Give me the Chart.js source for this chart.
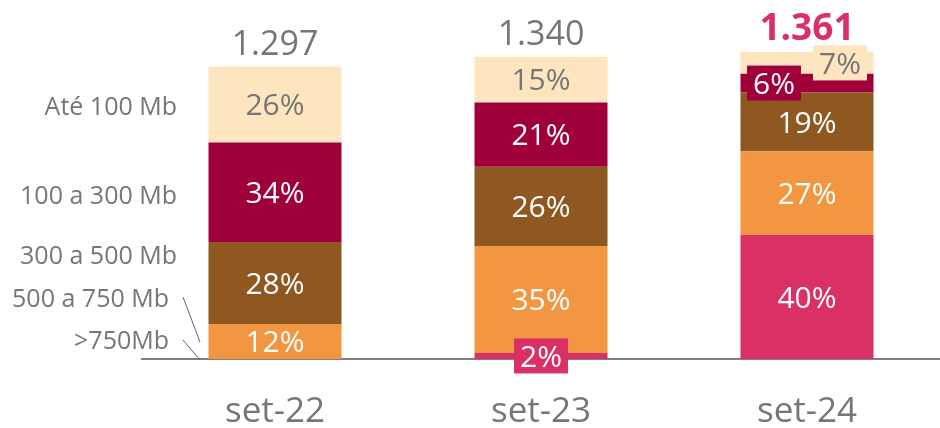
<!DOCTYPE html>
<html>
<head>
<meta charset="utf-8">
<script src="https://cdn.jsdelivr.net/npm/chart.js@4.4.1/dist/chart.umd.min.js"></script>
<style>
  html, body { margin: 0; padding: 0; background: #fff; }
  #wrap { width: 940px; height: 428px; }
</style>
</head>
<body>
<div id="wrap"><canvas id="speedChart" width="940" height="428"></canvas></div>
<script>
const periods = ["set-22", "set-23", "set-24"];
const totals = [1297, 1340, 1361];
const tiers = [">750Mb", "500 a 750 Mb", "300 a 500 Mb", "100 a 300 Mb", "Até 100 Mb"];

// share of each speed tier (%), bottom of the stack first
const shareOver750 = [0, 2, 40];
const share500to750 = [12, 35, 27];
const share300to500 = [28, 26, 19];
const share100to300 = [34, 21, 6];
const shareUpTo100 = [26, 15, 7];

const tierShares = [shareOver750, share500to750, share300to500, share100to300, shareUpTo100];
const tierColors = ["#D93166", "#F39641", "#8F5821", "#A0003A", "#FDE5BF"];
const labelColors = ["#fff", "#fff", "#fff", "#fff", "#767676"];

const FONT = '"Open Sans", sans-serif';
const GREY = "#767676";

// labels that sit in a little box because the slice is too thin
const boxedLabels = { "0-1": 0, "3-2": -33, "4-2": 33 };

// left-hand tier names: right edge + baseline
const tierSpots = [[169, 349], [169, 307], [177, 264], [177, 204], [177, 115]];
const leaders = [[183, 297, 200, 342], [183, 340, 200, 360]];

function segValue(shares, i) {
  const sum = tierShares.reduce((s, arr) => s + arr[i], 0);
  return totals[i] * shares[i] / sum;
}

const datasets = tierShares.map((shares, t) => ({
  label: tiers[t],
  data: periods.map((_, i) => segValue(shares, i)),
  backgroundColor: tierColors[t],
  borderWidth: 0,
  categoryPercentage: 1,
  barPercentage: 0.5
}));

const labelPlugin = {
  id: "barLabels",
  afterDatasetsDraw(chart) {
    const ctx = chart.ctx;
    ctx.save();
    ctx.textAlign = "center";
    ctx.textBaseline = "alphabetic";

    chart.data.datasets.forEach((ds, t) => {
      chart.getDatasetMeta(t).data.forEach((bar, i) => {
        const pct = tierShares[t][i];
        if (!pct) return;
        const txt = pct + "%";
        ctx.font = "30px " + FONT;
        const cy = (bar.y + bar.base) / 2;
        const key = t + "-" + i;
        let cx = bar.x;
        if (key in boxedLabels) {
          cx += boxedLabels[key];
          const w = ctx.measureText(txt).width + 12;
          ctx.fillStyle = tierColors[t];
          ctx.fillRect(cx - w / 2, cy - 17.5, w, 35);
        }
        ctx.fillStyle = labelColors[t];
        ctx.fillText(txt, cx, cy + 10.7);
      });
    });

    // totals on top
    const top = chart.getDatasetMeta(tiers.length - 1).data;
    top.forEach((bar, i) => {
      const last = i === totals.length - 1;
      ctx.font = (last ? "bold 37px " : "34px ") + FONT;
      ctx.fillStyle = last ? "#D9306A" : GREY;
      ctx.fillText(totals[i].toLocaleString("pt-BR"), bar.x, bar.y - 12);
    });
    ctx.restore();
  },
  afterDraw(chart) {
    const ctx = chart.ctx;
    ctx.save();
    ctx.font = "25px " + FONT;
    ctx.fillStyle = GREY;
    ctx.textAlign = "right";
    ctx.textBaseline = "alphabetic";
    tiers.forEach((name, t) => ctx.fillText(name, tierSpots[t][0], tierSpots[t][1]));
    ctx.strokeStyle = "#666";
    ctx.lineWidth = 1;
    leaders.forEach(([x1, y1, x2, y2]) => {
      ctx.beginPath();
      ctx.moveTo(x1, y1);
      ctx.lineTo(x2, y2);
      ctx.stroke();
    });
    ctx.restore();
  }
};

new Chart(document.getElementById("speedChart"), {
  type: "bar",
  data: { labels: periods, datasets },
  options: {
    responsive: false,
    animation: false,
    devicePixelRatio: 1,
    layout: { padding: { left: 142, right: 0, top: 0, bottom: -37 } },
    plugins: { legend: { display: false }, tooltip: { enabled: false } },
    scales: {
      x: {
        stacked: true,
        grid: { display: false, drawTicks: false },
        border: { display: true, color: "#808080", width: 2 },
        ticks: { color: GREY, font: { family: FONT, size: 35 }, padding: 32 }
      },
      y: {
        stacked: true,
        display: false,
        min: 0,
        max: 1592
      }
    }
  },
  plugins: [labelPlugin]
});
</script>
</body>
</html>
